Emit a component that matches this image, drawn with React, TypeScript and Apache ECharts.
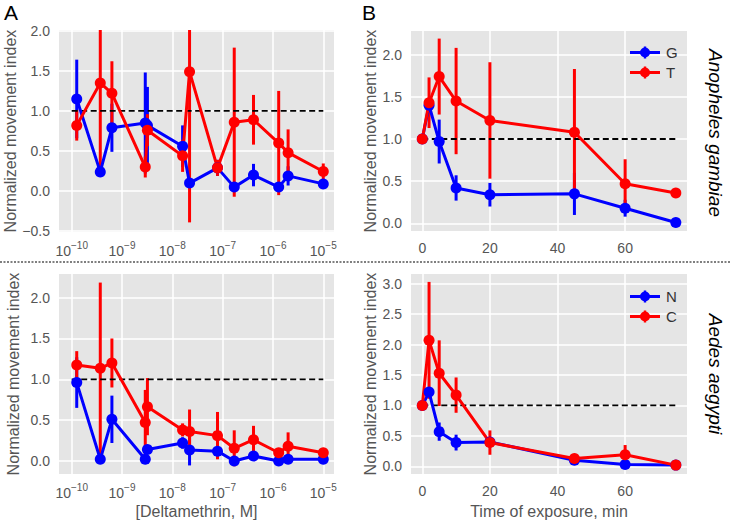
import React, { useEffect, useRef } from 'react';
import * as echarts from 'echarts';

// ---------- data ----------
const concentrations = [1.26e-10, 3.7e-10, 6.3e-10, 2.9e-9, 3.2e-9, 1.6e-8, 2.2e-8, 7.9e-8, 1.7e-7, 4.1e-7, 1.3e-6, 2.0e-6, 1.0e-5];
const timesMin = [0, 2, 5, 10, 20, 45, 60, 75];

// Anopheles gambiae – dose response
const gambiaeGDose = [1.15, 0.24, 0.79, 0.85, 0.82, 0.56, 0.1, 0.29, 0.05, 0.2, 0.05, 0.19, 0.09];
const gambiaeGDoseErr = [0.49, 0.03, 0.3, 0.63, 0.48, 0.26, 0.03, 0.1, 0.03, 0.14, 0.03, 0.12, 0.03];
const gambiaeTDose = [0.82, 1.35, 1.22, 0.3, 0.76, 0.44, 1.49, 0.29, 0.86, 0.89, 0.6, 0.48, 0.245];
const gambiaeTDoseErr = [0.19, 1.05, 0.4, 0.13, 0.2, 0.2, 1.88, 0.1, 0.93, 0.31, 0.65, 0.29, 0.1];

// Anopheles gambiae – time course
const gambiaeGTime = [1.0, 1.4, 0.97, 0.42, 0.34, 0.35, 0.18, 0.01];
const gambiaeGTimeErr = [0, 0.05, 0.26, 0.15, 0.14, 0.25, 0.1, 0];
const gambiaeTTime = [1.0, 1.43, 1.74, 1.45, 1.22, 1.08, 0.47, 0.36];
const gambiaeTTimeErr = [0, 0.3, 0.45, 0.63, 0.69, 0.75, 0.29, 0.02];

// Aedes aegypti – dose response
const aegyptiNDose = [0.96, 0.02, 0.51, 0.02, 0.14, 0.22, 0.135, 0.12, 0.0, 0.06, 0.0, 0.02, 0.02];
const aegyptiNDoseErr = [0.31, 0.02, 0.29, 0.02, 0.04, 0.07, 0.19, 0.04, 0.03, 0.03, 0.02, 0.02, 0.02];
const aegyptiCDose = [1.175, 1.135, 1.2, 0.47, 0.665, 0.38, 0.36, 0.31, 0.155, 0.26, 0.1, 0.18, 0.1];
const aegyptiCDoseErr = [0.17, 1.05, 0.3, 0.4, 0.35, 0.08, 0.27, 0.29, 0.22, 0.17, 0.03, 0.17, 0.03];

// Aedes aegypti – time course
const aegyptiNTime = [1.0, 1.22, 0.57, 0.39, 0.4, 0.1, 0.03, 0.02];
const aegyptiNTimeErr = [0, 0.06, 0.15, 0.13, 0.02, 0.02, 0.02, 0];
const aegyptiCTime = [1.0, 2.07, 1.53, 1.17, 0.39, 0.13, 0.19, 0.02];
const aegyptiCTimeErr = [0, 0.96, 0.54, 0.29, 0.2, 0.03, 0.16, 0.02];

const referenceLevel = 1.0;
const doseRefRange = [1e-10, 1e-5];
const timeRefRange = [0, 75];

// ---------- styling ----------
const FONT = 'Liberation Sans, Arial, Helvetica, sans-serif';
const BLUE = '#0000ff';
const RED = '#ff0000';
const LABEL_COLOR = '#555555';
const BG = '#e5e5e5';

const legendIcon =
  'path://M0,4.6L30,4.6L30,7.4L0,7.4Z M10,6A5,5 0 1 1 20,6A5,5 0 1 1 10,6Z M13.8,0L16.2,0L16.2,12L13.8,12Z';

function fmtY(v: number) {
  return v.toFixed(1).replace('-', '\u2212');
}

function fmtLog(v: number) {
  const e = Math.round(Math.log10(v));
  const s = (e < 0 ? '\u2212' : '') + Math.abs(e);
  return '{b|10}{s|' + s + '}';
}

function lineSeries(name: string, xs: number[], ys: number[], color: string, idx: number) {
  return {
    type: 'line',
    name,
    xAxisIndex: idx,
    yAxisIndex: idx,
    data: xs.map((x, k) => [x, ys[k]]),
    symbol: 'circle',
    symbolSize: 11,
    lineStyle: { width: 3, color },
    itemStyle: { color },
    emphasis: { disabled: true },
  };
}

function errSeries(name: string, xs: number[], ys: number[], errs: number[], color: string, idx: number) {
  return {
    type: 'custom',
    name,
    xAxisIndex: idx,
    yAxisIndex: idx,
    data: xs.map((x, k) => [x, ys[k] - errs[k], ys[k] + errs[k]]),
    encode: { x: 0, y: [1, 2] },
    itemStyle: { color },
    renderItem: (params: any, api: any) => {
      const x = api.value(0);
      const a = api.coord([x, api.value(1)]);
      const b = api.coord([x, api.value(2)]);
      const cs = params.coordSys;
      const top = cs.y;
      const bot = cs.y + cs.height;
      const y1 = Math.max(top, Math.min(bot, a[1]));
      const y2 = Math.max(top, Math.min(bot, b[1]));
      return {
        type: 'line',
        shape: { x1: a[0], y1, x2: a[0], y2 },
        style: { stroke: color, lineWidth: 3 },
      };
    },
  };
}

function refSeries(range: number[], idx: number) {
  return {
    type: 'line',
    name: 'ref',
    xAxisIndex: idx,
    yAxisIndex: idx,
    data: [
      [range[0], referenceLevel],
      [range[1], referenceLevel],
    ],
    symbol: 'none',
    silent: true,
    lineStyle: { color: '#000', width: 1.8, type: [6, 3.5] },
  };
}

const splitLine = { show: true, showMinLine: false, showMaxLine: false, lineStyle: { color: '#ffffff', width: 1.5 } };

function logXAxis(idx: number, withName: boolean) {
  return {
    type: 'log',
    gridIndex: idx,
    logBase: 10,
    min: Math.pow(10, -10.252),
    max: Math.pow(10, -4.787),
    axisLine: { show: false },
    axisTick: { show: false },
    splitLine,
    axisLabel: {
      showMinLabel: false,
      showMaxLabel: false,
      margin: 8,
      formatter: fmtLog,
      rich: {
        b: { fontSize: 14, color: LABEL_COLOR, fontFamily: FONT, lineHeight: 18, verticalAlign: 'bottom' },
        s: { fontSize: 10, color: LABEL_COLOR, fontFamily: FONT, lineHeight: 10, verticalAlign: 'top' },
      },
    },
    name: withName ? '[Deltamethrin, M]' : '',
    nameLocation: 'middle',
    nameGap: 29,
    nameTextStyle: { fontSize: 16, color: LABEL_COLOR, fontFamily: FONT },
  };
}

function timeXAxis(idx: number, withName: boolean) {
  return {
    type: 'value',
    gridIndex: idx,
    min: -3.34,
    max: 78.3,
    splitNumber: 4,
    axisLine: { show: false },
    axisTick: { show: false },
    splitLine,
    axisLabel: {
      showMinLabel: false,
      showMaxLabel: false,
      margin: 10,
      fontSize: 14,
      color: LABEL_COLOR,
      fontFamily: FONT,
    },
    name: withName ? 'Time of exposure, min' : '',
    nameLocation: 'middle',
    nameGap: 29,
    nameTextStyle: { fontSize: 16, color: LABEL_COLOR, fontFamily: FONT },
  };
}

function yAxis(idx: number, min: number, max: number, splitNumber: number, nameGap: number) {
  return {
    type: 'value',
    gridIndex: idx,
    min,
    max,
    splitNumber,
    axisLine: { show: false },
    axisTick: { show: false },
    splitLine,
    axisLabel: {
      showMinLabel: false,
      showMaxLabel: false,
      margin: 9,
      fontSize: 14,
      color: LABEL_COLOR,
      fontFamily: FONT,
      formatter: fmtY,
    },
    name: 'Normalized movement index',
    nameLocation: 'middle',
    nameGap,
    nameTextStyle: { fontSize: 16, color: LABEL_COLOR, fontFamily: FONT },
  };
}

function legend(names: string[], top: number) {
  return {
    data: names,
    orient: 'vertical',
    left: 625,
    top,
    itemWidth: 30,
    itemHeight: 12,
    itemGap: 5,
    icon: legendIcon,
    selectedMode: false,
    textStyle: { fontSize: 15, color: '#333333', fontFamily: FONT, padding: [0, 0, 0, 1] },
  };
}

export default function App() {
  const ref = useRef<HTMLDivElement>(null);

  useEffect(() => {
    if (!ref.current) return;
    const chart = echarts.init(ref.current, null, { renderer: 'svg' });
    const gridBase = { show: true, backgroundColor: BG, borderWidth: 0, containLabel: false };
    const option = {
      animation: false,
      textStyle: { fontFamily: FONT },
      grid: [
        { ...gridBase, left: 59, top: 30, width: 275, height: 202 },
        { ...gridBase, left: 411, top: 31, width: 276, height: 200 },
        { ...gridBase, left: 59, top: 274, width: 275, height: 200 },
        { ...gridBase, left: 411, top: 274, width: 276, height: 201 },
      ],
      xAxis: [logXAxis(0, false), timeXAxis(1, false), logXAxis(2, true), timeXAxis(3, true)],
      yAxis: [
        yAxis(0, -0.51, 2.01, 5, 38),
        yAxis(1, -0.09, 2.28, 5, 33),
        yAxis(2, -0.16, 2.29, 5, 38),
        yAxis(3, -0.126, 3.16, 6, 33),
      ],
      legend: [legend(['G', 'T'], 40), legend(['N', 'C'], 284)],
      series: [
        refSeries(doseRefRange, 0),
        errSeries('G sd', concentrations, gambiaeGDose, gambiaeGDoseErr, BLUE, 0),
        lineSeries('G', concentrations, gambiaeGDose, BLUE, 0),
        errSeries('T sd', concentrations, gambiaeTDose, gambiaeTDoseErr, RED, 0),
        lineSeries('T', concentrations, gambiaeTDose, RED, 0),

        refSeries(timeRefRange, 1),
        errSeries('G sd', timesMin, gambiaeGTime, gambiaeGTimeErr, BLUE, 1),
        lineSeries('G', timesMin, gambiaeGTime, BLUE, 1),
        errSeries('T sd', timesMin, gambiaeTTime, gambiaeTTimeErr, RED, 1),
        lineSeries('T', timesMin, gambiaeTTime, RED, 1),

        refSeries(doseRefRange, 2),
        errSeries('N sd', concentrations, aegyptiNDose, aegyptiNDoseErr, BLUE, 2),
        lineSeries('N', concentrations, aegyptiNDose, BLUE, 2),
        errSeries('C sd', concentrations, aegyptiCDose, aegyptiCDoseErr, RED, 2),
        lineSeries('C', concentrations, aegyptiCDose, RED, 2),

        refSeries(timeRefRange, 3),
        errSeries('N sd', timesMin, aegyptiNTime, aegyptiNTimeErr, BLUE, 3),
        lineSeries('N', timesMin, aegyptiNTime, BLUE, 3),
        errSeries('C sd', timesMin, aegyptiCTime, aegyptiCTimeErr, RED, 3),
        lineSeries('C', timesMin, aegyptiCTime, RED, 3),
      ],
      graphic: [
        { type: 'text', left: 4, top: 2, style: { text: 'A', font: '21px ' + FONT, fill: '#000' } },
        { type: 'text', left: 362, top: 2, style: { text: 'B', font: '21px ' + FONT, fill: '#000' } },
        {
          type: 'line',
          shape: { x1: 0, y1: 262, x2: 731, y2: 262 },
          style: { stroke: '#000', lineWidth: 1.2, lineDash: [2, 1.5] },
        },
        {
          type: 'text',
          x: 715,
          y: 133,
          rotation: -Math.PI / 2,
          style: {
            text: 'Anopheles gambiae',
            font: 'italic 19px ' + FONT,
            fill: '#000',
            textAlign: 'center',
            textVerticalAlign: 'middle',
          },
        },
        {
          type: 'text',
          x: 715,
          y: 374,
          rotation: -Math.PI / 2,
          style: {
            text: 'Aedes aegypti',
            font: 'italic 19px ' + FONT,
            fill: '#000',
            textAlign: 'center',
            textVerticalAlign: 'middle',
          },
        },
      ],
    };
    chart.setOption(option as any);
    return () => {
      chart.dispose();
    };
  }, []);

  return (
    <div
      ref={ref}
      style={{ position: 'fixed', left: 0, top: 0, width: 731, height: 520, background: '#fff' }}
    />
  );
}
